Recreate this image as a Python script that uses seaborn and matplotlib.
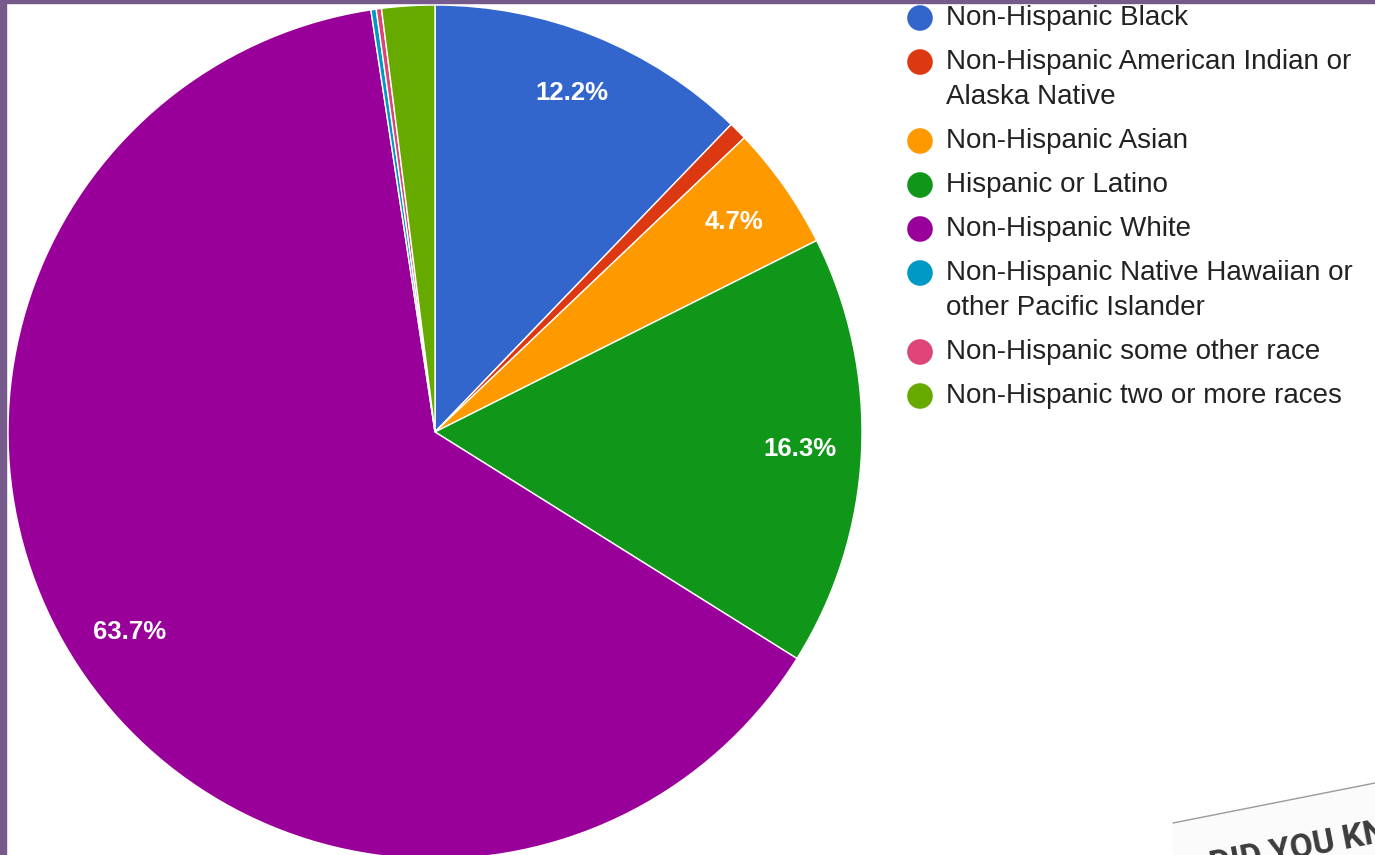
import matplotlib
matplotlib.use("Agg")
import matplotlib.pyplot as plt
import matplotlib.patches as mpatches
import seaborn as sns

# race / ethnicity shares (%), clockwise from 12 o'clock
groups = [
    "Non-Hispanic Black",
    "Non-Hispanic American Indian or\nAlaska Native",
    "Non-Hispanic Asian",
    "Hispanic or Latino",
    "Non-Hispanic White",
    "Non-Hispanic Native Hawaiian or\nother Pacific Islander",
    "Non-Hispanic some other race",
    "Non-Hispanic two or more races",
]
shares = [12.2, 0.7, 4.7, 16.3, 63.7, 0.2, 0.2, 2.0]
colors = ["#3366cc", "#dc3912", "#ff9900", "#109618",
          "#990099", "#0099c6", "#dd4477", "#66aa00"]

sns.set_theme(style="white")
plt.rcParams['font.family'] = ['Liberation Sans', 'Arial', 'DejaVu Sans']

fig = plt.figure(figsize=(13.75, 8.55), dpi=100)
fig.patch.set_facecolor("white")
ax = fig.add_axes([0, 0, 1, 1])

palette = sns.color_palette(colors)
wedges, texts, autotexts = ax.pie(
    shares, colors=palette, startangle=270, counterclock=True,
    center=(435, 432), radius=427,
    autopct=lambda p: f"{p:.1f}%" if p > 4 else "",
    pctdistance=0.855,
    wedgeprops=dict(edgecolor="white", linewidth=1.0),
    textprops=dict(color="white", fontsize=18.5, fontweight="bold"),
)
ax.set_xlim(0, 1375)
ax.set_ylim(855, 0)
ax.set_aspect("equal")
ax.axis("off")

# legend on the right, drawn by hand (wrapped entries)
y = 18
for name, col in zip(groups, palette):
    lines = name.split("\n")
    ax.scatter(920, y, s=340, color=col, edgecolor="none", zorder=5)
    for k, line in enumerate(lines):
        ax.text(946, y + 35 * k, line, fontsize=20, color="#222222",
                ha="left", va="center")
    y += 44 + 35 * (len(lines) - 1)

# the "did you know" note peeking in at the bottom right
ax.add_patch(mpatches.Polygon([(1173, 823), (1375, 783), (1375, 855), (1173, 855)],
                              closed=True, facecolor="#fbfbfb", edgecolor="none", zorder=6))
ax.plot([1173, 1375], [823, 783], color="#9a9a9a", lw=1, zorder=7)
ax.text(1207, 850, "DID YOU KNOW", rotation=11, rotation_mode="anchor",
        ha="left", va="top", fontsize=24, fontweight="bold",
        family=["Roboto", "DejaVu Sans"], color="#3c3c3c", zorder=8)

# slide frame
border = "#765a8b"
fig.add_artist(mpatches.Rectangle((0, 0), 6 / 1375, 1, transform=fig.transFigure,
                                  color=border, zorder=20))
fig.add_artist(mpatches.Rectangle((0, 1 - 3 / 855), 1, 3 / 855, transform=fig.transFigure,
                                  color=border, zorder=20))

plt.savefig("out.png", dpi=100)
